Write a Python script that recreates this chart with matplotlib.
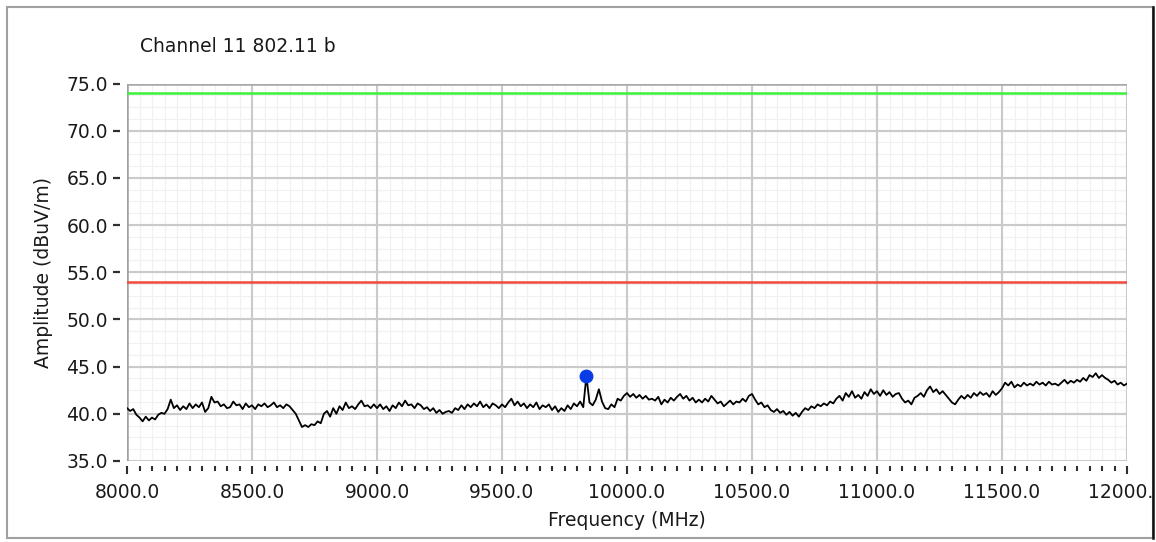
#!/usr/bin/env python3
"""
Radiated emission sweep chart - Channel 11 802.11 b, 8-12 GHz.
"""

import numpy as np
import matplotlib
matplotlib.use('Agg')
import matplotlib.pyplot as plt
from matplotlib.ticker import MultipleLocator, FormatStrFormatter
from matplotlib.patches import Rectangle
from matplotlib.lines import Line2D

TITLE = 'Channel 11 802.11 b'
X_LABEL = 'Frequency (MHz)'
Y_LABEL = 'Amplitude (dBuV/m)'

FREQ_START = 8000.0
FREQ_STOP = 12000.0

PEAK_LIMIT = 74.0     # green line
AVG_LIMIT = 54.0      # red line
MARKER_FREQ = 9837.5  # blue peak marker

AMPLITUDE = [
    40.6, 40.3, 40.5, 39.9, 39.6, 39.2, 39.7, 39.3,
    39.6, 39.4, 39.9, 40.1, 40.0, 40.5, 41.5, 40.6,
    40.9, 40.4, 40.8, 40.5, 41.1, 40.6, 41.0, 40.7,
    41.2, 40.2, 40.6, 41.8, 41.2, 41.3, 40.8, 41.0,
    40.6, 40.7, 41.3, 40.9, 41.0, 40.5, 41.1, 40.7,
    40.9, 40.5, 41.0, 40.8, 41.1, 40.7, 40.9, 41.2,
    40.7, 40.9, 40.6, 41.0, 40.8, 40.4, 40.0, 39.3,
    38.6, 38.8, 38.6, 38.9, 38.8, 39.2, 39.0, 40.0,
    40.3, 39.7, 40.6, 40.0, 40.8, 40.4, 41.2, 40.6,
    40.8, 40.5, 41.0, 41.4, 40.8, 40.9, 40.6, 41.0,
    40.6, 41.0, 40.5, 40.8, 40.3, 40.9, 40.6, 41.2,
    40.8, 41.4, 40.9, 41.0, 40.6, 41.1, 40.9, 40.5,
    40.7, 40.3, 40.6, 40.1, 40.4, 40.0, 40.2, 40.3,
    40.1, 40.6, 40.4, 40.9, 40.5, 41.0, 40.7, 41.1,
    40.8, 41.3, 40.7, 41.0, 40.6, 41.1, 40.9, 40.6,
    41.0, 40.7, 41.2, 41.6, 40.9, 41.3, 40.8, 41.1,
    40.6, 41.0, 40.7, 41.2, 40.5, 40.9, 40.7, 41.0,
    40.4, 40.8, 40.2, 40.6, 40.3, 40.9, 40.5, 41.1,
    40.8, 41.3, 40.7, 44.0, 41.2, 40.9, 41.5, 42.6,
    41.3, 40.6, 40.5, 41.0, 40.7, 41.6, 41.4, 41.9,
    42.2, 41.8, 42.1, 41.7, 42.0, 41.6, 41.9, 41.5,
    41.6, 41.4, 41.8, 41.0, 41.5, 41.2, 41.7, 41.4,
    41.8, 42.1, 41.6, 41.9, 41.4, 41.7, 41.2, 41.5,
    41.2, 41.6, 41.3, 41.9, 41.5, 41.1, 41.3, 40.8,
    41.1, 41.4, 41.0, 41.3, 41.2, 41.6, 41.3, 41.9,
    42.1, 41.5, 41.0, 41.2, 40.7, 40.9, 40.4, 40.2,
    40.5, 40.1, 40.3, 39.9, 40.2, 39.8, 40.1, 39.7,
    40.2, 40.6, 40.4, 40.8, 40.6, 41.0, 40.8, 41.1,
    40.9, 41.3, 41.1, 41.6, 41.9, 41.4, 42.2, 41.8,
    42.4, 41.7, 42.0, 41.6, 42.3, 41.9, 42.6, 42.1,
    42.4, 41.9, 42.5, 42.0, 42.3, 41.8, 42.1, 42.2,
    41.6, 41.2, 41.4, 41.0, 41.7, 41.9, 42.2, 41.8,
    42.5, 42.9, 42.3, 42.6, 42.1, 42.4, 42.0, 41.6,
    41.2, 41.0, 41.5, 41.9, 41.6, 42.0, 41.7, 42.2,
    41.9, 42.3, 42.0, 42.2, 41.8, 42.4, 42.0, 42.3,
    42.7, 43.3, 43.0, 43.4, 42.8, 43.1, 42.9, 43.3,
    43.0, 43.2, 43.0, 43.4, 43.1, 43.3, 43.0, 43.4,
    43.1, 43.2, 43.0, 43.3, 43.6, 43.2, 43.5, 43.3,
    43.6, 43.4, 43.8, 43.5, 44.1, 43.9, 44.3, 43.8,
    44.1, 43.8, 43.6, 43.3, 43.5, 43.1, 43.3, 43.0,
    43.2,
]

W, H = 1156, 542
TEXT_COLOR = '#1a1a1a'


def px(x, y):
    """pixel (from top-left) -> figure fraction"""
    return x / W, 1 - y / H


def main():
    plt.rcParams['font.family'] = ['DejaVu Sans']
    plt.rcParams['font.size'] = 13.5

    fig = plt.figure(figsize=(W / 100, H / 100), dpi=100)
    fig.patch.set_facecolor('white')

    left, top, right, bottom = 127, 83.5, 1127, 461
    ax = fig.add_axes([left / W, 1 - bottom / H, (right - left) / W, (bottom - top) / H])

    freq = np.linspace(FREQ_START, FREQ_STOP, len(AMPLITUDE))
    amp = np.array(AMPLITUDE)

    ax.axhline(PEAK_LIMIT, color='#3cf03c', linewidth=1.8, zorder=3)
    ax.axhline(AVG_LIMIT, color='#f04a3a', linewidth=1.8, zorder=3)
    ax.plot(freq, amp, color='black', linewidth=1.3, zorder=4)

    mk = int(np.argmin(np.abs(freq - MARKER_FREQ)))
    ax.plot(freq[mk], amp[mk], 'o', color='#0a3ce6', markersize=9, zorder=5)

    ax.set_xlim(FREQ_START, FREQ_STOP)
    ax.set_ylim(35, 75)

    ax.xaxis.set_major_locator(MultipleLocator(500))
    ax.xaxis.set_minor_locator(MultipleLocator(50))
    ax.yaxis.set_major_locator(MultipleLocator(5))
    ax.xaxis.set_major_formatter(FormatStrFormatter('%.1f'))
    ax.yaxis.set_major_formatter(FormatStrFormatter('%.1f'))

    # faint minor grid below the major one
    ax.vlines(np.arange(FREQ_START + 50, FREQ_STOP, 50), 35, 75,
              color='#f1f1f1', linewidth=0.9, zorder=0.1)
    ax.hlines(np.arange(36.25, 75, 1.25), FREQ_START, FREQ_STOP,
              color='#f1f1f1', linewidth=0.9, zorder=0.1)
    ax.grid(which='major', color='#cacaca', linewidth=1.5)
    ax.set_axisbelow(True)

    # edge lines of the plot area
    ax.axvline(FREQ_START, color='#a0a0a0', linewidth=1.8, zorder=2)
    ax.axhline(75, color='#a8a8a8', linewidth=1.8, zorder=2)

    for side in ['top', 'right']:
        ax.spines[side].set_visible(False)
    ax.spines['left'].set_position(('outward', 5))
    ax.spines['bottom'].set_position(('outward', 3.6))
    ax.spines['left'].set_color('none')
    ax.spines['bottom'].set_color('none')

    ax.tick_params(axis='y', which='major', length=5, width=1.6, pad=3.6,
                   color='#303030', labelcolor=TEXT_COLOR)
    ax.tick_params(axis='x', which='major', length=5.8, width=1.5, pad=6.5,
                   color='#303030', labelcolor=TEXT_COLOR)
    ax.tick_params(axis='x', which='minor', length=3.6, width=1.5, color='#303030')

    # no grid line on the right and bottom edges
    fig.canvas.draw()
    xg = ax.xaxis.get_gridlines()
    yg = ax.yaxis.get_gridlines()
    if len(xg):
        xg[-1].set_visible(False)
    if len(yg):
        yg[0].set_visible(False)

    fig.text(*px(140, 46), TITLE, ha='left', va='center', color=TEXT_COLOR)
    fig.text(*px(44, 272), Y_LABEL, ha='center', va='center', rotation=90, color=TEXT_COLOR)
    fig.text(*px(627, 520), X_LABEL, ha='center', va='center', color=TEXT_COLOR)

    # frame around the whole control, covers the clipped last tick label
    fig.patches.append(Rectangle(px(1153, 542), 10 / W, 1, transform=fig.transFigure,
                                 facecolor='white', edgecolor='none', zorder=5))
    fig.patches.append(Rectangle(px(7, 538), 1146 / W, 531 / H, transform=fig.transFigure,
                                 facecolor='none', edgecolor='#a0a0a0', linewidth=1.5, zorder=6))
    fig.lines.append(Line2D([1153 / W, 1153 / W], [1 - 538 / H, 1 - 7 / H], transform=fig.transFigure,
                            color='#101010', linewidth=1.8, zorder=7))

    fig.savefig('out.png', dpi=100)
    plt.close(fig)


if __name__ == '__main__':
    main()
